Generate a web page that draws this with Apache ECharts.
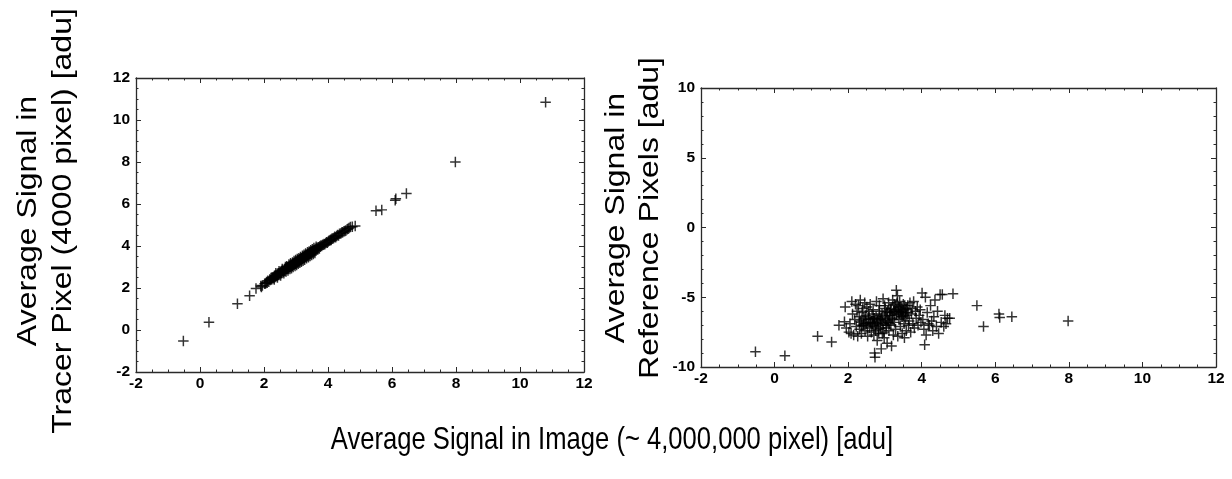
<!DOCTYPE html>
<html>
<head>
<meta charset="utf-8">
<script src="https://cdn.jsdelivr.net/npm/echarts@6/dist/echarts.min.js"></script>
<style>html,body{margin:0;padding:0;background:#fff}#c{width:1232px;height:479px}</style>
</head>
<body>
<div id="c"></div>
<script>
// Average signal in the full image (~4,000,000 pixel) [adu] — shared x for both panels
const imageSignal = [
  -0.52, 0.28, 1.17, 1.55, 1.75, 5.50, 5.68, 6.10, 6.12, 6.45, 7.98, 10.80,
  1.92, 1.90, 1.95, 2.02, 2.05, 2.08, 2.10, 2.12, 2.15, 2.18,
  2.20, 2.22, 2.24, 2.26, 2.28, 2.30, 2.31, 2.33, 2.35, 2.36,
  2.38, 2.40, 2.41, 2.43, 2.45, 2.46, 2.48, 2.50, 2.51, 2.53,
  2.55, 2.56, 2.58, 2.60, 2.61, 2.63, 2.65, 2.66, 2.68, 2.70,
  2.71, 2.72, 2.73, 2.74, 2.76, 2.77, 2.79, 2.80, 2.82, 2.84,
  2.85, 2.87, 2.88, 2.90, 2.92, 2.93, 2.95, 2.96, 2.98, 3.00,
  3.01, 3.03, 3.05, 3.06, 3.08, 3.10, 3.11, 3.13, 3.15, 3.16,
  3.18, 3.19, 3.21, 3.23, 3.24, 3.26, 3.28, 3.29, 3.31, 3.32,
  3.34, 3.35, 3.37, 3.38, 3.40, 3.42, 3.43, 3.45, 3.47, 3.48,
  3.50, 3.52, 3.53, 3.55, 3.57, 3.58, 3.60, 3.62, 3.64, 3.66,
  3.68, 3.70, 3.72, 3.74, 3.76, 3.78, 3.80, 3.83, 3.85, 3.88,
  3.90, 3.93, 3.96, 3.98, 4.01, 4.03, 4.06, 4.08, 4.10, 4.12,
  4.15, 4.18, 4.21, 4.24, 4.27, 4.30, 4.33, 4.36, 4.40, 4.43,
  4.46, 4.50, 4.53, 4.56, 4.60, 4.63, 4.66, 4.70, 4.76, 4.85,
  2.32, 2.37, 2.42, 2.47, 2.52, 2.57, 2.62, 2.67, 2.69, 2.71,
  2.75, 2.78, 2.81, 2.83, 2.86, 2.89, 2.91, 2.94, 2.97, 2.99,
  3.02, 3.04, 3.07, 3.09, 3.12, 3.14, 3.17, 3.20, 3.22, 3.25,
  3.27, 3.30, 3.33, 3.36, 3.39, 3.41, 3.44, 3.46, 3.49, 3.51,
  3.54, 3.56, 3.59, 3.63
];
// Average signal in tracer pixels (4000 pixel) [adu] — left panel
const tracerSignal = [
  -0.52, 0.37, 1.25, 1.63, 1.98, 5.68, 5.72, 6.18, 6.25, 6.50, 8.00, 10.85,
  2.05, 2.10, 2.12, 2.20, 2.22, 2.28, 2.25, 2.35, 2.30, 2.40,
  2.38, 2.45, 2.40, 2.50, 2.46, 2.52, 2.48, 2.55, 2.58, 2.52,
  2.60, 2.57, 2.64, 2.62, 2.66, 2.70, 2.65, 2.72, 2.75, 2.70,
  2.78, 2.74, 2.82, 2.80, 2.78, 2.86, 2.84, 2.90, 2.88, 2.92,
  2.95, 2.90, 2.96, 2.98, 2.96, 3.00, 3.02, 3.00, 3.06, 3.04,
  3.08, 3.10, 3.06, 3.12, 3.14, 3.12, 3.18, 3.20, 3.16, 3.22,
  3.25, 3.22, 3.28, 3.30, 3.27, 3.32, 3.35, 3.34, 3.38, 3.36,
  3.42, 3.40, 3.44, 3.45, 3.48, 3.46, 3.52, 3.50, 3.54, 3.55,
  3.56, 3.60, 3.58, 3.62, 3.64, 3.63, 3.68, 3.66, 3.70, 3.72,
  3.70, 3.76, 3.74, 3.78, 3.80, 3.82, 3.80, 3.86, 3.88, 3.86,
  3.92, 3.94, 3.92, 3.98, 3.97, 4.02, 4.00, 4.05, 4.06, 4.10,
  4.08, 4.14, 4.18, 4.16, 4.22, 4.25, 4.26, 4.30, 4.28, 4.34,
  4.36, 4.38, 4.44, 4.42, 4.48, 4.52, 4.50, 4.58, 4.60, 4.64,
  4.66, 4.70, 4.72, 4.74, 4.80, 4.82, 4.86, 4.90, 4.92, 4.95,
  2.40, 2.70, 2.50, 2.80, 2.60, 2.90, 2.70, 3.00, 2.78, 3.04,
  2.83, 3.12, 2.90, 3.18, 2.94, 3.22, 3.00, 3.28, 3.05, 3.33,
  3.10, 3.38, 3.15, 3.42, 3.20, 3.48, 3.25, 3.54, 3.30, 3.58,
  3.35, 3.64, 3.42, 3.70, 3.47, 3.74, 3.52, 3.80, 3.57, 3.84,
  3.62, 3.90, 3.67, 3.96
];
// Average signal in reference pixels [adu] — right panel (null: not shown in the panel)
const referenceSignal = [
  -8.9, -9.2, -7.8, -8.2, -7.0, -5.6, -7.1, -6.2, -6.45, -6.4, -6.7, null,
  -5.7, -6.75, -7.2, -7.5, -6.9, -7.6, -5.3, -6.2, -7.7, -6.6,
  -5.5, -7.1, -6.0, -7.8, -5.6, -6.4, -7.3, -5.2, -6.8, -7.6,
  -6.1, -5.8, -7.0, -6.5, -5.4, -7.4, -6.3, -6.9, -5.7, -7.8,
  -6.6, -6.0, -7.2, -5.5, -6.8, -7.5, -6.2, -6.9, -5.9, -7.7,
  -6.5, -9.0, -9.3, -7.1, -6.4, -5.3, -8.1, -6.7, -7.3, -6.0,
  -5.6, -7.0, -6.6, -8.7, -6.2, -7.6, -5.1, -6.9, -7.9, -6.4,
  -5.8, -7.2, -6.1, -8.3, -6.8, -5.4, -7.4, -6.3, -5.9, -7.0,
  -8.5, -6.5, -5.2, -7.7, -6.0, -6.8, -5.6, -7.3, -4.5, -6.2,
  -4.9, -7.8, -5.7, -6.6, -5.3, -7.1, -6.0, -5.8, -7.6, -6.4,
  -5.5, -6.9, -7.9, -6.1, -5.9, -7.4, -6.3, -5.6, -7.0, -6.7,
  -5.4, -7.5, -6.2, -5.8, -6.9, -5.3, -7.2, -6.0, -6.5, -5.7,
  -7.0, -6.3, -5.9, -6.8, -4.7, -6.6, -7.3, -8.4, -5.0, -7.7,
  -6.1, -6.9, -7.0, -5.6, -6.7, -7.4, -6.4, -5.2, -7.1, -6.0,
  -7.6, -4.8, -6.8, -4.8, -7.1, -6.3, -6.9, -6.5, -6.5, -4.75,
  -6.7, -7.0, -6.9, -6.6, -7.1, -6.4, -6.8, -7.0, -6.5, -6.8,
  -7.4, -6.9, -6.6, -7.6, -6.3, -7.2, -6.5, -6.8, -7.5, -5.6,
  -6.6, -7.0, -6.0, -6.7, -6.9, -6.1, -5.8, -6.3, -6.6, -5.5,
  -6.1, -5.9, -5.4, -6.0, -6.2, -5.7, -6.4, -6.1, -5.9, -6.3,
  -5.6, -6.5, -5.8, -6.1
];

const xTitle = 'Average Signal in Image (~ 4,000,000 pixel) [adu]';
const leftYTitle = 'Average Signal in\nTracer Pixel (4000 pixel) [adu]';
const rightYTitle = 'Average Signal in\nReference Pixels [adu]';

const leftX = { min: -2, max: 12, interval: 2, minor: 4 };
const leftY = { min: -2, max: 12, interval: 2, minor: 4 };
const rightX = { min: -2, max: 12, interval: 2, minor: 4 };
const rightY = { min: -10, max: 10, interval: 5, minor: 5 };

const ink = '#2a2a2a';
function axis(gridIndex, position, showLabel, s) {
  return {
    type: 'value', gridIndex: gridIndex, position: position,
    min: s.min, max: s.max, interval: s.interval,
    splitLine: { show: false }, minorSplitLine: { show: false },
    axisLine: { show: true, onZero: false, lineStyle: { color: ink, width: 1.3 } },
    axisTick: { show: true, inside: true, length: 5, lineStyle: { color: ink, width: 1 } },
    minorTick: { show: true, splitNumber: s.minor, length: 2.5, lineStyle: { color: ink, width: 1 } },
    axisLabel: {
      show: showLabel, color: '#000', fontWeight: 'bold', fontSize: 15.5,
      fontFamily: '"Liberation Sans Narrow", "Liberation Sans", Arial, sans-serif',
      margin: position === 'bottom' ? 4 : 6
    }
  };
}

const plus = 'path://M4.3 0H5.7V4.3H10V5.7H5.7V10H4.3V5.7H0V4.3H4.3Z';
const leftData = imageSignal.map((x, i) => [x, tracerSignal[i]]);
const rightData = imageSignal.map((x, i) => [x, referenceSignal[i]]).filter(p => p[1] !== null);

const titleFont = '"Liberation Sans", Arial, sans-serif';
const chart = echarts.init(document.getElementById('c'), null, { renderer: 'canvas' });
chart.setOption({
  animation: false,
  backgroundColor: '#ffffff',
  grid: [
    { left: 136, top: 78, width: 448, height: 294 },
    { left: 701, top: 88, width: 515, height: 279 }
  ],
  xAxis: [
    axis(0, 'bottom', true, leftX), axis(0, 'top', false, leftX),
    axis(1, 'bottom', true, rightX), axis(1, 'top', false, rightX)
  ],
  yAxis: [
    axis(0, 'left', true, leftY), axis(0, 'right', false, leftY),
    axis(1, 'left', true, rightY), axis(1, 'right', false, rightY)
  ],
  series: [
    { type: 'scatter', xAxisIndex: 0, yAxisIndex: 0, data: leftData, symbol: plus, symbolSize: 10.5,
      itemStyle: { color: '#000' }, silent: true },
    { type: 'scatter', xAxisIndex: 2, yAxisIndex: 2, data: rightData, symbol: plus, symbolSize: 10.5,
      itemStyle: { color: '#000' }, silent: true }
  ],
  graphic: [
    { type: 'text', x: 46, y: 221, rotation: Math.PI / 2, scaleY: 0.85, silent: true,
      style: { text: leftYTitle, fill: '#000', fontSize: 32, fontFamily: titleFont,
        lineHeight: 41, align: 'center', verticalAlign: 'middle', textAlign: 'center', textVerticalAlign: 'middle' } },
    { type: 'text', x: 633, y: 218, rotation: Math.PI / 2, scaleY: 0.85, silent: true,
      style: { text: rightYTitle, fill: '#000', fontSize: 32, fontFamily: titleFont,
        lineHeight: 40, align: 'center', verticalAlign: 'middle', textAlign: 'center', textVerticalAlign: 'middle' } },
    { type: 'text', x: 612, y: 440, scaleX: 0.8, silent: true,
      style: { text: xTitle, fill: '#000', fontSize: 32, fontFamily: titleFont,
        align: 'center', verticalAlign: 'middle', textAlign: 'center', textVerticalAlign: 'middle' } }
  ]
});
</script>
</body>
</html>
